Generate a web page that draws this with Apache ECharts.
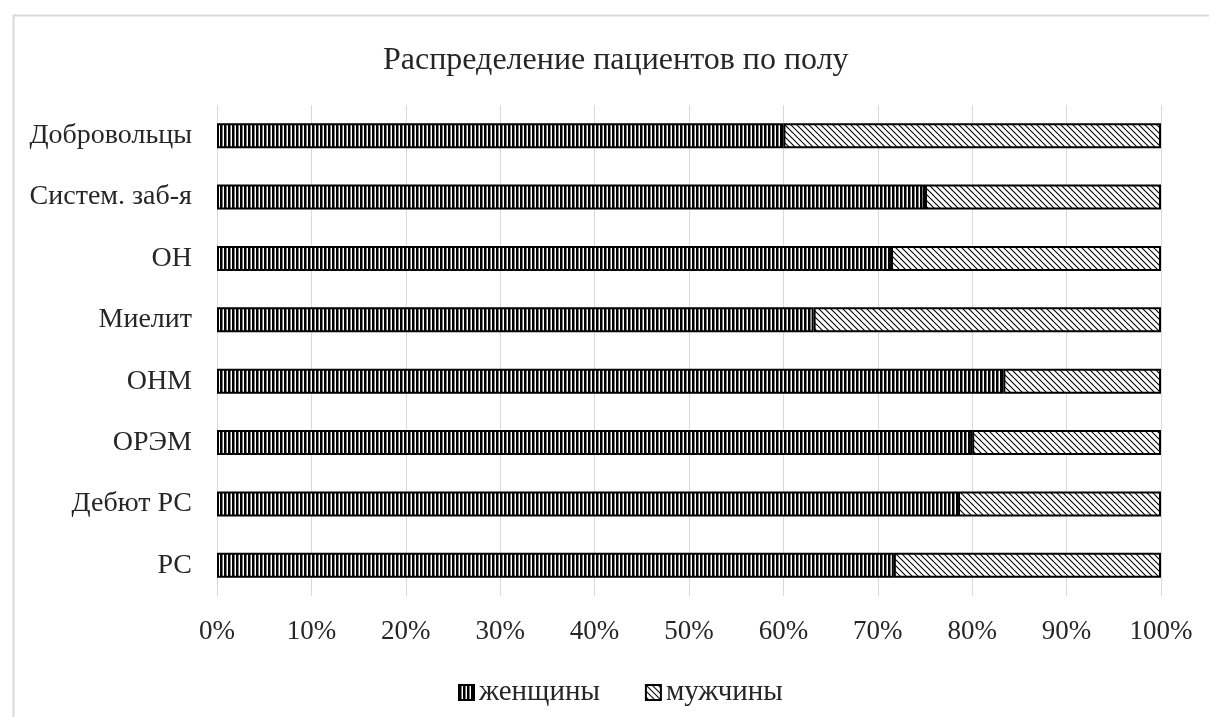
<!DOCTYPE html>
<html>
<head>
<meta charset="utf-8">
<script src="https://cdn.jsdelivr.net/npm/echarts@6/dist/echarts.min.js"></script>
<style>html,body{margin:0;padding:0;background:#fff;}#c{width:1209px;height:717px;}</style>
</head>
<body>
<div id="c"></div>
<script>
const categories = ['РС', 'Дебют РС', 'ОРЭМ', 'ОНМ', 'Миелит', 'ОН', 'Систем. заб-я', 'Добровольцы'];
const women = [71.7, 78.5, 80.0, 83.3, 63.2, 71.4, 75.0, 60.0];
const men = [28.3, 21.5, 20.0, 16.7, 36.8, 28.6, 25.0, 40.0];
const xTicks = ['0%','10%','20%','30%','40%','50%','60%','70%','80%','90%','100%'];

function vertPattern() {
  const c = document.createElement('canvas');
  c.width = 4; c.height = 4;
  const g = c.getContext('2d');
  g.fillStyle = '#ffffff'; g.fillRect(0, 0, 4, 4);
  g.fillStyle = '#000000'; g.fillRect(0, 0, 2, 4);
  g.fillStyle = '#7a7a7a'; g.fillRect(2, 0, 1, 4);
  return c;
}
function diagPattern() {
  const c = document.createElement('canvas');
  c.width = 6; c.height = 6;
  const g = c.getContext('2d');
  g.fillStyle = '#ffffff'; g.fillRect(0, 0, 6, 6);
  g.strokeStyle = '#000000'; g.lineWidth = 1.1;
  g.beginPath();
  g.moveTo(-2, -2); g.lineTo(8, 8);
  g.moveTo(-2, 4); g.lineTo(2, 8);
  g.moveTo(4, -2); g.lineTo(8, 2);
  g.stroke();
  return c;
}

const chart = echarts.init(document.getElementById('c'));
const font = '"Liberation Serif", "Times New Roman", serif';
chart.setOption({
  animation: false,
  backgroundColor: '#ffffff',
  graphic: [{
    type: 'rect', left: 11, top: 13,
    shape: { width: 1300, height: 800 },
    style: { fill: 'none', stroke: '#d9d9d9', lineWidth: 2 }
  }],
  title: {
    text: 'Распределение пациентов по полу',
    left: 378, top: 40,
    textStyle: { fontFamily: font, fontSize: 32, fontWeight: 'normal', color: '#262626' }
  },
  legend: {
    top: 673, left: 453,
    itemWidth: 15, itemHeight: 15, itemGap: 45,
    icon: 'rect',
    textStyle: { fontFamily: font, fontSize: 29, color: '#262626' },
    data: ['женщины', 'мужчины']
  },
  grid: { left: 217, right: 48, top: 105, bottom: 121, containLabel: false },
  xAxis: {
    type: 'value', min: 0, max: 100, interval: 10,
    axisLine: { show: false }, axisTick: { show: false },
    splitLine: { lineStyle: { color: '#d9d9d9', width: 1 } },
    axisLabel: {
      margin: 22, fontFamily: font, fontSize: 27, color: '#262626',
      formatter: function (v) { return xTicks[Math.round(v / 10)]; }
    }
  },
  yAxis: {
    type: 'category', data: categories,
    axisLine: { show: false }, axisTick: { show: false },
    axisLabel: { margin: 25, fontFamily: font, fontSize: 28, color: '#262626' }
  },
  series: [{
    name: 'женщины', type: 'bar', stack: 'total', barWidth: 25,
    data: women,
    itemStyle: { color: { image: vertPattern(), repeat: 'repeat' }, borderColor: '#000', borderWidth: 2 }
  }, {
    name: 'мужчины', type: 'bar', stack: 'total', barWidth: 25,
    data: men,
    itemStyle: { color: { image: diagPattern(), repeat: 'repeat' }, borderColor: '#000', borderWidth: 2 }
  }]
});
</script>
</body>
</html>
